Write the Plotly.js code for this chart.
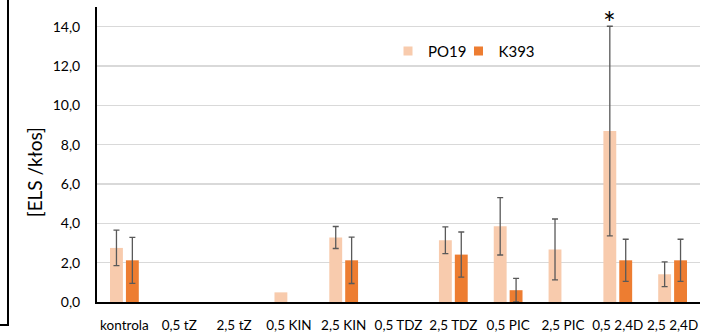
<!DOCTYPE html>
<html>
<head>
<meta charset="utf-8">
<script src="https://cdn.plot.ly/plotly-3.0.1.min.js"></script>
<style>html,body{margin:0;padding:0;background:#fff;}#chart{width:706px;height:333px;}</style>
</head>
<body>
<div id="chart"></div>
<script>
const categories = ["kontrola", "0,5 tZ", "2,5 tZ", "0,5 KIN", "2,5 KIN", "0,5 TDZ", "2,5 TDZ", "0,5 PIC", "2,5 PIC", "0,5 2,4D", "2,5 2,4D"];
const po19 = [2.75, null, null, 0.49, 3.28, null, 3.14, 3.85, 2.67, 8.69, 1.41];
const po19Err = [0.9, null, null, null, 0.56, null, 0.68, 1.46, 1.55, 5.33, 0.63];
const k393 = [2.12, null, null, null, 2.12, null, 2.41, 0.6, null, 2.12, 2.12];
const k393Err = [1.17, null, null, null, 1.18, null, 1.15, 0.6, null, 1.07, 1.07];
const seriesNames = ["PO19", "K393"];
const seriesColors = ['#f8cbad', '#ed7d31'];
const yTitle = "[ELS /kłos]";
const starCategory = "0,5 2,4D";
const starValue = 14.0;

const FONT = "Lato, Carlito, 'Liberation Sans', sans-serif";
const errStyle = {type: 'data', visible: true, color: '#595959', thickness: 1.3, width: 3};
const noNull = a => a.map(v => (v === null ? NaN : v));

const traces = [
  {type: 'bar', name: seriesNames[0], x: categories, y: po19, showlegend: false,
   marker: {color: seriesColors[0]},
   error_y: Object.assign({array: noNull(po19Err)}, errStyle)},
  {type: 'bar', name: seriesNames[1], x: categories, y: k393, showlegend: false,
   marker: {color: seriesColors[1]},
   error_y: Object.assign({array: noNull(k393Err)}, errStyle)},
  {type: 'scatter', mode: 'markers', name: seriesNames[0], x: [null], y: [null], legend: 'legend',
   marker: {symbol: 'square', size: 9, color: seriesColors[0]}, showlegend: true},
  {type: 'scatter', mode: 'markers', name: seriesNames[1], x: [null], y: [null], legend: 'legend2',
   marker: {symbol: 'square', size: 9, color: seriesColors[1]}, showlegend: true}
];

const legendBase = {orientation: 'h', y: 0.85, xanchor: 'left', yanchor: 'middle',
  font: {family: FONT, size: 15, color: '#000'}, bgcolor: 'rgba(0,0,0,0)'};

const layout = {
  width: 706, height: 333,
  margin: {l: 97, r: 6, t: 7, b: 31},
  paper_bgcolor: '#ffffff', plot_bgcolor: '#ffffff',
  separators: ', ',
  font: {family: FONT, size: 14, color: '#000'},
  barmode: 'group', bargap: 0.42, bargroupgap: 0.19,
  showlegend: true,
  legend: Object.assign({x: 0.4826}, legendBase),
  legend2: Object.assign({x: 0.5995}, legendBase),
  xaxis: {type: 'category', showline: true, linecolor: '#000', linewidth: 2,
          ticks: '', showgrid: false, zeroline: false,
          tickfont: {family: FONT, size: 13.5, color: '#000'}, ticklabelstandoff: 10},
  yaxis: {range: [0, 15], dtick: 2, tick0: 0, tickformat: '.1f',
          showline: true, linecolor: '#000', linewidth: 2,
          showgrid: true, gridcolor: '#d9d9d9', gridwidth: 1.5, zeroline: false,
          ticks: '', tickfont: {family: FONT, size: 14, color: '#000'}, ticklabelstandoff: 12},
  annotations: [
    {xref: 'paper', yref: 'paper', x: -0.1045, y: 0.44, text: yTitle, textangle: -90,
     showarrow: false, font: {family: FONT, size: 19, color: '#000'}, xanchor: 'center', yanchor: 'middle'},
    {xref: 'x', yref: 'y', x: starCategory, y: starValue, xshift: -8, text: '*',
     showarrow: false, yanchor: 'top', yshift: 25, font: {family: FONT, size: 30, color: '#000'}}
  ],
  shapes: [
    {type: 'path', xref: 'paper', yref: 'paper',
     path: 'M -0.1476,1.03 L -0.1476,-0.078 L -0.165,-0.078',
     line: {color: '#000', width: 2}}
  ]
};

Plotly.newPlot('chart', traces, layout, {displayModeBar: false, staticPlot: true});
</script>
</body>
</html>
